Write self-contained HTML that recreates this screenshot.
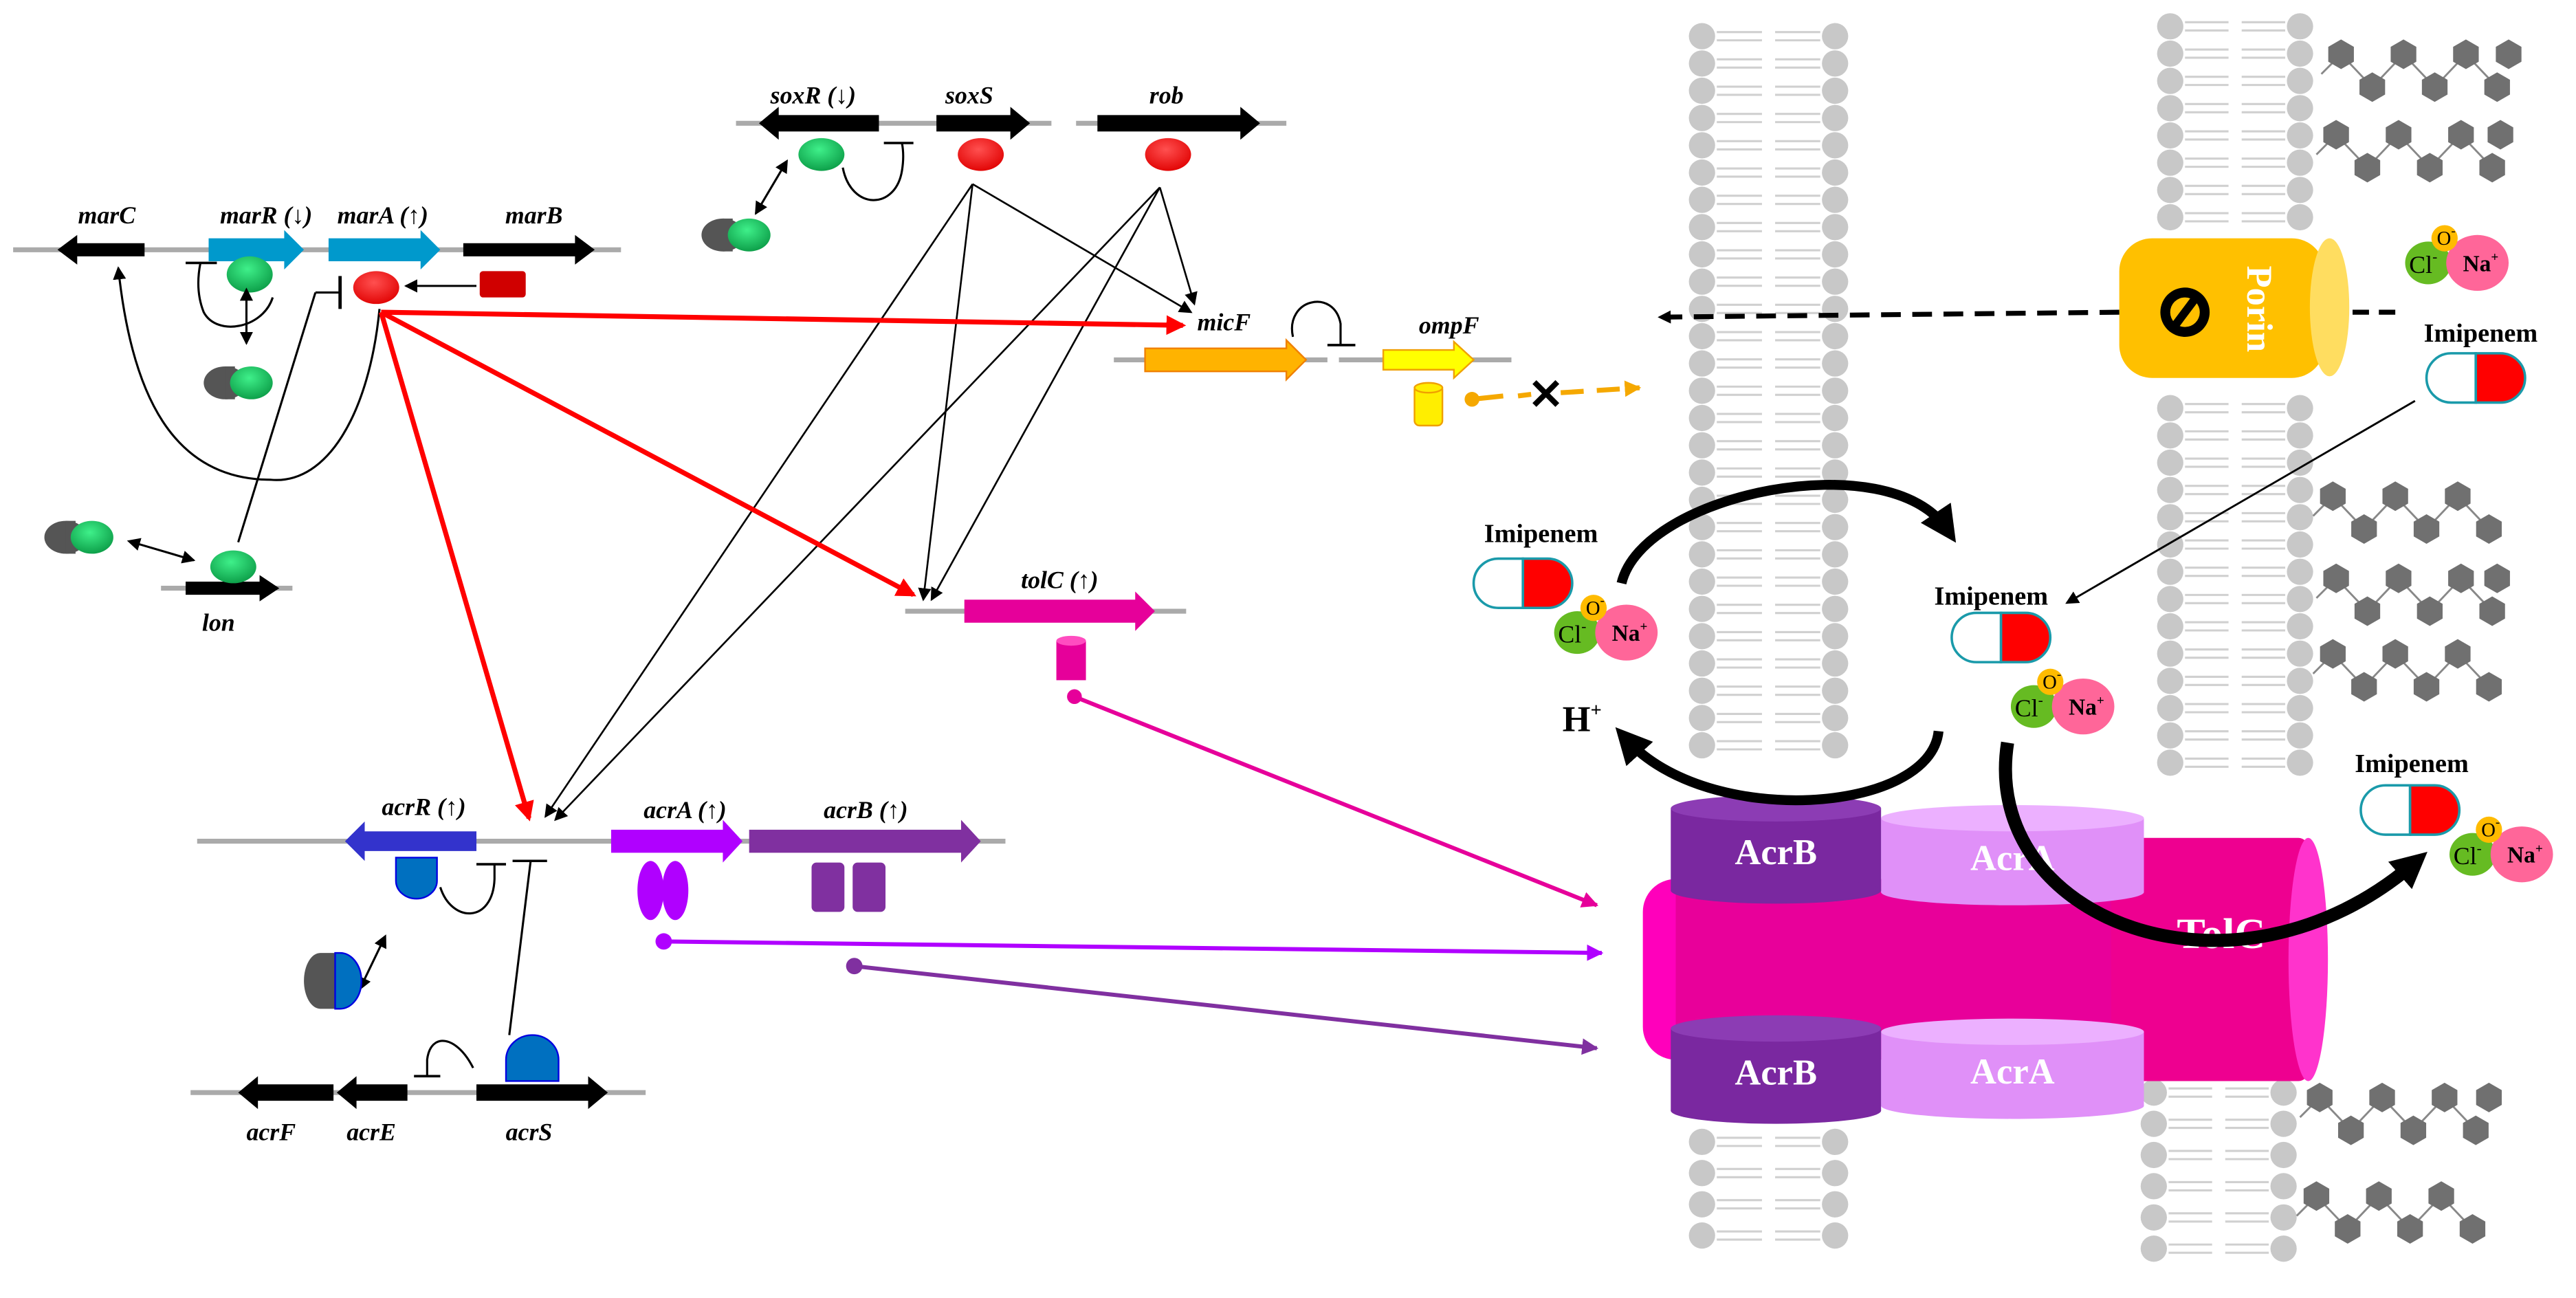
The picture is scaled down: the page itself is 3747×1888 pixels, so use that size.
<!DOCTYPE html>
<html><head><meta charset="utf-8"><style>
html,body{margin:0;padding:0;background:#fff;}
svg{display:block;}
text{font-family:"Liberation Serif",serif;}
.g{font-style:italic;font-weight:bold;font-size:15px;fill:#000;}
.b{font-weight:bold;}
</style></head><body>
<svg id="s" width="3747" height="1888" viewBox="0 0 1568 790" xmlns="http://www.w3.org/2000/svg">
<defs>
<marker id="ak" markerWidth="8" markerHeight="8" refX="7" refY="4" orient="auto" markerUnits="userSpaceOnUse"><path d="M0,0 L8,4 L0,8z" fill="#000"/></marker>
<marker id="aks" markerWidth="8" markerHeight="8" refX="1" refY="4" orient="auto-start-reverse" markerUnits="userSpaceOnUse"><path d="M0,0 L8,4 L0,8z" fill="#000"/></marker>
<marker id="ar" markerWidth="12" markerHeight="12" refX="10" refY="6" orient="auto" markerUnits="userSpaceOnUse"><path d="M0,0 L12,6 L0,12z" fill="#f00"/></marker>
<marker id="am" markerWidth="10" markerHeight="10" refX="9" refY="5" orient="auto" markerUnits="userSpaceOnUse"><path d="M0,0 L10,5 L0,10z" fill="#e6009a"/></marker>
<marker id="ap" markerWidth="10" markerHeight="10" refX="9" refY="5" orient="auto" markerUnits="userSpaceOnUse"><path d="M0,0 L10,5 L0,10z" fill="#b000ff"/></marker>
<marker id="ad" markerWidth="10" markerHeight="10" refX="9" refY="5" orient="auto" markerUnits="userSpaceOnUse"><path d="M0,0 L10,5 L0,10z" fill="#8030a0"/></marker>
<marker id="ao" markerWidth="10" markerHeight="10" refX="9" refY="5" orient="auto" markerUnits="userSpaceOnUse"><path d="M0,0 L10,5 L0,10z" fill="#f5a800"/></marker>
<marker id="abig" markerWidth="22" markerHeight="22" refX="12" refY="11" orient="auto" markerUnits="userSpaceOnUse"><path d="M0,0 L22,11 L0,22z" fill="#000"/></marker>
<radialGradient id="gg" cx="0.45" cy="0.35" r="0.7"><stop offset="0" stop-color="#3ff08a"/><stop offset="1" stop-color="#0a9a45"/></radialGradient>
<radialGradient id="rg" cx="0.45" cy="0.35" r="0.7"><stop offset="0" stop-color="#ff5050"/><stop offset="1" stop-color="#e00000"/></radialGradient>
</defs>
<g id="bg"></g>
</svg>
<script>
var s='';
function L(x1,y1,x2,y2,c,w,extra){s+='<line x1="'+x1+'" y1="'+y1+'" x2="'+x2+'" y2="'+y2+'" stroke="'+c+'" stroke-width="'+w+'" '+(extra||'')+'/>';}
function gene(x1,x2,y,c,h,hh,stroke){
 h=h||10;hh=hh||20;var d=x2>x1?1:-1;var hl=12*d;
 s+='<polygon points="'+x1+','+(y-h/2)+' '+(x2-hl)+','+(y-h/2)+' '+(x2-hl)+','+(y-hh/2)+' '+x2+','+y+' '+(x2-hl)+','+(y+hh/2)+' '+(x2-hl)+','+(y+h/2)+' '+x1+','+(y+h/2)+'" fill="'+c+'" '+(stroke?'stroke="'+stroke+'" stroke-width="1"':'')+'/>';}
function T(x,y,t,cls,extra){s+='<text x="'+x+'" y="'+y+'" class="'+cls+'" text-anchor="middle" '+(extra||'')+'>'+t+'</text>';}
function E(x,y,rx,ry,f){s+='<ellipse cx="'+x+'" cy="'+y+'" rx="'+rx+'" ry="'+ry+'" fill="'+f+'"/>';}
function cpx(x,y){E(x,y,13,10,'#555');s+='<rect x="'+(x)+'" y="'+(y-10)+'" width="6" height="20" fill="#555"/>';E(x+16,y,13,10,'url(#gg)');}
function lipid(x1,x2,y){var c='#c8c8c8';
 s+='<circle cx="'+x1+'" cy="'+y+'" r="8" fill="'+c+'"/><circle cx="'+x2+'" cy="'+y+'" r="8" fill="'+c+'"/>';
 var a=x1+9,b=x1+(x2-x1)/2-4,c2=x1+(x2-x1)/2+4,d=x2-9;
 [-2.5,2.5].forEach(function(o){L(a,y+o,b,y+o,'#d0d0d0',1.3);L(c2,y+o,d,y+o,'#d0d0d0',1.3);});}
for(var y=22;y<=470;y+=16.6)lipid(1036,1117,y);
for(var y=695;y<=770;y+=19)lipid(1036,1117,y);
for(var y=16;y<=480;y+=16.6){if(y>140&&y<235)continue;lipid(1321,1400,y);}
for(var y=665;y<=775;y+=19)lipid(1311,1390,y);
function hex(x,y){var r=9,p=[];for(var i=0;i<6;i++){var a=Math.PI/6+i*Math.PI/3;p.push((x+r*Math.cos(a)).toFixed(1)+','+(y+r*Math.sin(a)).toFixed(1));}s+='<polygon points="'+p.join(' ')+'" fill="#707070"/>';}
function chain(x,y,n){var pts=[[x-12,y+12]];for(var i=0;i<n;i++){pts.push([x+i*38,y]);pts.push([x+i*38+19,y+20]);}
 s+='<polyline points="'+pts.map(function(p){return p.join(',')}).join(' ')+'" fill="none" stroke="#888" stroke-width="1.2"/>';
 for(var i=0;i<n;i++){hex(x+i*38,y);hex(x+i*38+19,y+20);} }
chain(1425,33,3);hex(1527,33);chain(1422,82,3);hex(1522,82);
chain(1420,302,3);chain(1422,352,3);hex(1520,352);chain(1420,398,3);
chain(1412,668,3);hex(1515,668);chain(1410,728,3);
L(8,152,378,152,'#aaa',3);
gene(88,35,152,'#000',8,18);gene(127,185,152,'#0099cc',14,24);gene(200,268,152,'#0099cc',14,24);gene(282,362,152,'#000',8,18);
T(65,136,'marC','g');T(162,136,'marR (↓)','g');T(233,136,'marA (↑)','g');T(325,136,'marB','g');
E(152,167,14,11,'url(#gg)');E(229,175,14,10,'url(#rg)');
s+='<rect x="292" y="165" width="28" height="16" rx="2" fill="#d00000"/>';
L(290,174,247,174,'#000',1.3,'marker-end="url(#ak)"');
L(150,182,150,209,'#000',1.3,'marker-end="url(#ak)" marker-start="url(#aks)"');
cpx(137,233);
s+='<path d="M166,181 C160,200 132,205 124,190 C120,180 120,170 122,160" fill="none" stroke="#000" stroke-width="1.3"/>';L(113,160,132,160,'#000',1.5);
s+='<path d="M231,188 C225,250 200,295 165,292 C105,292 80,240 72,163" fill="none" stroke="#000" stroke-width="1.3" marker-end="url(#ak)"/>';
L(98,358,178,358,'#aaa',3);gene(113,170,358,'#000',8,16);T(133,384,'lon','g');
E(142,345,14,10,'url(#gg)');cpx(40,327);
L(84,331,118,341,'#000',1.3,'marker-end="url(#ak)" marker-start="url(#aks)"');
L(145,330,192,178,'#000',1.3);L(192,178,207,178,'#000',1.3);L(207,168,207,188,'#000',2);
L(448,75,640,75,'#aaa',3);gene(535,462,75,'#000',10,20);gene(570,627,75,'#000',10,20);
L(655,75,783,75,'#aaa',3);gene(668,767,75,'#000',10,20);
T(495,63,'soxR (↓)','g');T(590,63,'soxS','g');T(710,63,'rob','g');
E(500,94,14,10,'url(#gg)');E(597,94,14,10,'url(#rg)');E(711,94,14,10,'url(#rg)');
cpx(440,143);
L(476,103,460,130,'#000',1.3,'marker-end="url(#ak)" marker-start="url(#aks)"');
s+='<path d="M513,102 C518,128 545,128 549,104 C550,98 550,92 549,87" fill="none" stroke="#000" stroke-width="1.3"/>';L(538,87,556,87,'#000',1.5);
L(592,112,725,190,'#000',1.1,'marker-end="url(#ak)"');L(706,114,727,185,'#000',1.1,'marker-end="url(#ak)"');
L(592,112,562,365,'#000',1.1,'marker-end="url(#ak)"');L(706,114,567,365,'#000',1.1,'marker-end="url(#ak)"');
L(592,112,332,497,'#000',1.1,'marker-end="url(#ak)"');L(706,114,338,499,'#000',1.1,'marker-end="url(#ak)"');
L(678,219,808,219,'#aaa',3);gene(697,795,219,'#ffb300',14,24,'#f08000');
L(815,219,920,219,'#aaa',3);gene(842,897,219,'#ffff00',12,22,'#f0a000');
T(745,201,'micF','g');T(882,203,'ompF','g');
s+='<path d="M787,205 C782,182 812,175 816,197 L816,210" fill="none" stroke="#000" stroke-width="1.3"/>';L(808,210,825,210,'#000',1.5);
s+='<rect x="861" y="234" width="17" height="25" rx="3" fill="#ffee00" stroke="#f0a000"/><ellipse cx="869.5" cy="236" rx="8.5" ry="3" fill="#ffee00" stroke="#f0a000"/>';
s+='<circle cx="896" cy="243" r="4.5" fill="#f5a800"/>';L(896,243,915,241,'#f5a800',3);L(924,241,932,240,'#f5a800',3);
L(950,239,998,236,'#f5a800',3,'stroke-dasharray="14 8" marker-end="url(#ao)"');
s+='<text x="941" y="249" font-size="26" font-weight="bold" text-anchor="middle" font-family="Liberation Sans">✕</text>';
L(232,190,720,198,'#f00',3,'marker-end="url(#ar)"');L(232,190,556,362,'#f00',3,'marker-end="url(#ar)"');L(232,190,322,498,'#f00',3,'marker-end="url(#ar)"');
L(551,372,722,372,'#aaa',3);gene(587,703,372,'#e6009a',14,24);T(645,358,'tolC (↑)','g');
s+='<rect x="643" y="390" width="18" height="24" fill="#e6009a"/><ellipse cx="652" cy="390" rx="9" ry="3" fill="#ff4dc0"/>';
s+='<circle cx="654" cy="424" r="4.5" fill="#e6009a"/>';L(654,424,972,551,'#e6009a',2.5,'marker-end="url(#am)"');
L(120,512,612,512,'#aaa',3);gene(290,210,512,'#3333cc',12,24);gene(372,452,512,'#b000ff',14,26);gene(456,597,512,'#8030a0',14,26);
T(258,496,'acrR (↑)','g');T(417,498,'acrA (↑)','g');T(527,498,'acrB (↑)','g');
s+='<path d="M241,522 L266,522 L266,536 A12.5,11 0 0 1 241,536Z" fill="#0070c0" stroke="#0000e0"/>';
s+='<ellipse cx="396" cy="542" rx="8" ry="18" fill="#b000ff"/><ellipse cx="411" cy="542" rx="8" ry="18" fill="#b000ff"/>';
s+='<rect x="494" y="525" width="20" height="30" rx="3" fill="#8030a0"/><rect x="519" y="525" width="20" height="30" rx="3" fill="#8030a0"/>';
s+='<path d="M268,540 C275,562 300,562 301,535 L301,526" fill="none" stroke="#000" stroke-width="1.3"/>';L(290,526,308,526,'#000',1.5);
L(312,524,333,524,'#000',1.5);L(323,524,310,630,'#000',1.3);
L(232,575,219,602,'#000',1.3,'marker-end="url(#ak)" marker-start="url(#aks)"');
s+='<path d="M195,580 A10,17 0 0 0 195,614 L204,614 L204,580Z" fill="#555"/><path d="M204,580 L207,580 A13,17 0 0 1 207,614 L204,614Z" fill="#0070c0" stroke="#0000e0"/>';
s+='<circle cx="404" cy="573" r="5" fill="#b000ff"/>';L(404,573,975,580,'#b000ff',2.5,'marker-end="url(#ap)"');
s+='<circle cx="520" cy="588" r="5" fill="#8030a0"/>';L(520,588,972,638,'#8030a0',2.5,'marker-end="url(#ad)"');
L(116,665,393,665,'#aaa',3);gene(203,145,665,'#000',10,20);gene(248,205,665,'#000',10,20);gene(290,370,665,'#000',10,20);
T(165,694,'acrF','g');T(226,694,'acrE','g');T(322,694,'acrS','g');
s+='<path d="M308,658 L308,645 A16,15 0 0 1 340,645 L340,658Z" fill="#0070c0" stroke="#0000e0"/>';
s+='<path d="M288,650 C278,630 262,628 260,645 L260,655" fill="none" stroke="#000" stroke-width="1.3"/>';L(252,655,268,655,'#000',1.5);
s+='<rect x="1000" y="535" width="40" height="110" rx="20" fill="#ff00bb"/>';
s+='<rect x="1020" y="535" width="300" height="110" fill="#e8009a"/>';
s+='<rect x="1285" y="510" width="120" height="148" rx="6" fill="#ee0090"/><ellipse cx="1405" cy="584" rx="12" ry="74" fill="#ff33cc"/>';
function cyl(x,y,w,h,c,c2,lab,fc){s+='<rect x="'+x+'" y="'+y+'" width="'+w+'" height="'+h+'" fill="'+c+'"/><ellipse cx="'+(x+w/2)+'" cy="'+(y+h)+'" rx="'+(w/2)+'" ry="8" fill="'+c+'"/><ellipse cx="'+(x+w/2)+'" cy="'+y+'" rx="'+(w/2)+'" ry="8" fill="'+c2+'"/>';T(x+w/2,y+h/2+9,lab,'b','font-size="22" fill="'+fc+'"');}
cyl(1145,498,160,45,'#e090f8','#ecb0ff','AcrA','#fff');cyl(1145,628,160,45,'#e090f8','#ecb0ff','AcrA','#fff');
cyl(1017,492,128,50,'#7a28a0','#8c3cb4','AcrB','#fff');cyl(1017,626,128,50,'#7a28a0','#8c3cb4','AcrB','#fff');
T(1352,577,'TolC','b','font-size="26" fill="#fff"');
s+='<rect x="1290" y="145" width="125" height="85" rx="20" fill="#ffc000"/><ellipse cx="1418" cy="187" rx="12" ry="42" fill="#ffdd60"/>';
s+='<circle cx="1330" cy="190" r="15" fill="#000"/><circle cx="1330" cy="190" r="9" fill="#ffc000"/><line x1="1324" y1="198" x2="1336" y2="182" stroke="#000" stroke-width="5"/>';
s+='<text x="1368" y="188" class="b" font-size="22" fill="#fff" text-anchor="middle" transform="rotate(90 1368 188)">Porin</text>';
L(1290,190,1010,193,'#000',3,'stroke-dasharray="12 7" marker-end="url(#ak)"');L(1432,190,1460,190,'#000',3,'stroke-dasharray="10 6"');
function pill(x,y){s+='<path d="M'+(x+30)+','+y+' L'+(x+15)+','+y+' A15,15 0 0 0 '+(x+15)+','+(y+30)+' L'+(x+30)+','+(y+30)+'Z" fill="#fff" stroke="#1a9aaa" stroke-width="1.5"/><path d="M'+(x+30)+','+y+' L'+(x+45)+','+y+' A15,15 0 0 1 '+(x+45)+','+(y+30)+' L'+(x+30)+','+(y+30)+'Z" fill="#f00" stroke="#1a9aaa" stroke-width="1.5"/>';}
function salt(x,y){E(x,y,14,13,'#66bb22');E(x+30,y,19,17,'#ff6699');s+='<circle cx="'+(x+10)+'" cy="'+(y-15)+'" r="8" fill="#ffbb00"/>';
 T(x-3,y+6,'Cl<tspan font-size="9" dy="-7">-</tspan>','', 'font-size="15"');T(x+11,y-11,'O<tspan font-size="8" dy="-6">-</tspan>','','font-size="12"');T(x+32,y+5,'Na<tspan font-size="8" dy="-6">+</tspan>','b','font-size="14"');}
T(1510,208,'Imipenem','b','font-size="16"');pill(1477,215);salt(1478,160);
T(938,330,'Imipenem','b','font-size="16"');pill(897,340);salt(960,385);
T(1212,368,'Imipenem','b','font-size="16"');pill(1188,373);salt(1238,430);
T(1468,470,'Imipenem','b','font-size="16"');pill(1437,478);salt(1505,520);
L(1470,244,1258,367,'#000',1.2,'marker-end="url(#ak)"');
T(963,445,'H<tspan font-size="12" dy="-9">+</tspan>','b','font-size="22"');
s+='<path d="M987,355 C1000,300 1150,270 1185,322" fill="none" stroke="#000" stroke-width="6" marker-end="url(#abig)"/>';
s+='<path d="M1180,445 C1175,495 1040,505 990,450" fill="none" stroke="#000" stroke-width="6" marker-end="url(#abig)"/>';
s+='<path d="M1222,452 C1205,560 1360,620 1470,525" fill="none" stroke="#000" stroke-width="8" marker-end="url(#abig)"/>';
document.getElementById('bg').innerHTML=s;
</script>
</body></html>
